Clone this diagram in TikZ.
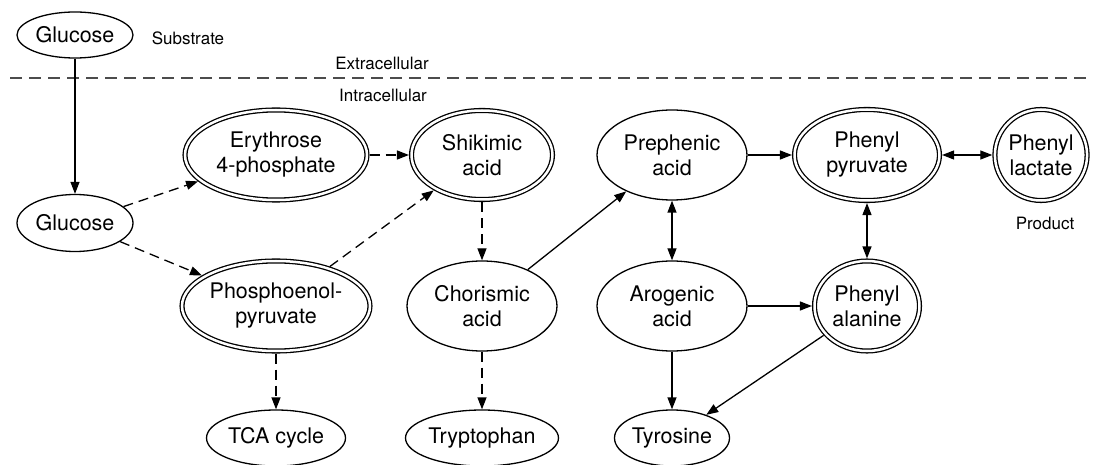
\documentclass[tikz,border=0pt]{standalone}
\usepackage{fontspec}
\setmainfont{TeX Gyre Heros}
\usetikzlibrary{arrows.meta,shapes.geometric}

\begin{document}
\begin{tikzpicture}[x=1pt,y=1pt,>={Triangle[length=12pt,width=9pt]},node distance=151pt,
        line width=1.3pt,
        met node/.style={ellipse,draw,inner sep=0pt,align=center,font=\fontsize{21.5}{25}\selectfont},
        key node/.style={met node,double,double distance=2.5pt,outer sep=2.6pt},
        side text/.style={font=\fontsize{17}{20}\selectfont},
        flux dash/.style={dash pattern=on 10pt off 6pt}]
        \useasboundingbox (0,0) rectangle (1093,-465);
        % outside the cell
        \node[met node, minimum width=116pt, minimum height=46pt] (glc0) at (75,-35) {Glucose};
        \node[side text] (sub) at (188,-38) {Substrate};
        \node[side text] (extra) at (382,-63) {Extracellular};
        \node[side text] (intra) at (383,-95) {Intracellular};
        \draw[black!70, line width=1.3pt, dash pattern=on 12pt off 7pt] (10,-78) -- (1093,-78);
        % inside the cell
        \node[met node, minimum width=116pt, minimum height=57pt] (glc) [below of=glc0, node distance=188pt] {Glucose};
        \node[key node, minimum width=182pt, minimum height=90pt] (ery) at (276,-155) {Erythrose\\4-phosphate};
        \node[key node, minimum width=188pt, minimum height=90pt] (pep) [below of=ery] {Phosphoenol-\\pyruvate};
        \node[met node, minimum width=139pt, minimum height=56pt] (tca) [below of=pep, node distance=132pt] {TCA cycle};
        \node[key node, minimum width=141pt, minimum height=89pt] (shik) [right of=ery, node distance=206pt] {Shikimic\\acid};
        \node[met node, minimum width=150pt, minimum height=90pt] (chor) [below of=shik] {Chorismic\\acid};
        \node[met node, minimum width=153pt, minimum height=56pt] (trp) [below of=chor, node distance=132pt] {Tryptophan};
        \node[met node, minimum width=150pt, minimum height=90pt] (preph) [right of=shik, node distance=190pt] {Prephenic\\acid};
        \node[met node, minimum width=150pt, minimum height=90pt] (arog) [below of=preph] {Arogenic\\acid};
        \node[met node, minimum width=115pt, minimum height=56pt] (tyr) [below of=arog, node distance=132pt] {Tyrosine};
        \node[key node, minimum width=145pt, minimum height=91pt] (ppyr) [right of=preph, node distance=195pt] {Phenyl\\pyruvate};
        \node[key node, minimum width=105pt, minimum height=90pt] (phe) [below of=ppyr] {Phenyl\\alanine};
        \node[key node, minimum width=92pt, minimum height=91pt] (plac) [right of=ppyr, node distance=174pt] {Phenyl\\lactate};
        \node[side text] (prod) at (1045,-223) {Product};
        \path[->]
        (glc0) edge (glc)
        (glc) edge[flux dash] (ery)
        (glc) edge[flux dash] (pep)
        (ery) edge[flux dash] (shik)
        (pep) edge[flux dash] (shik)
        (pep) edge[flux dash] (tca)
        (shik) edge[flux dash] (chor)
        (chor) edge[flux dash] (trp)
        (chor) edge (preph)
        (preph) edge (ppyr)
        (preph) edge[<->] (arog)
        (ppyr) edge[<->] (plac)
        (ppyr) edge[<->] (phe)
        (arog) edge (phe)
        (arog) edge (tyr)
        (phe) edge (tyr)
        ;
\end{tikzpicture}
\end{document}
